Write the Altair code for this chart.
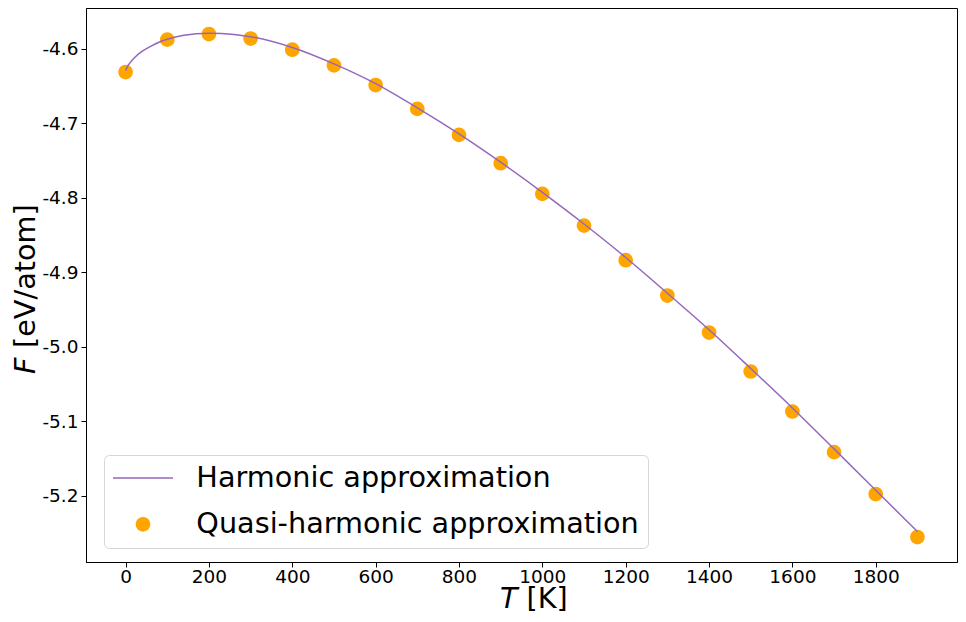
import altair as alt
import pandas as pd

# Quasi-harmonic points
T_points = [0, 100, 200, 300, 400, 500, 600, 700, 800, 900, 1000,
            1100, 1200, 1300, 1400, 1500, 1600, 1700, 1800, 1900]
F_points = [-4.631, -4.5875, -4.580, -4.586, -4.601, -4.622, -4.6485, -4.6805,
            -4.7154, -4.7534, -4.7946, -4.8372, -4.8837, -4.9311, -4.9808,
            -5.0331, -5.0868, -5.1414, -5.1977, -5.2554]

# Harmonic curve
T_line = [0, 5, 10, 20, 40, 60, 80, 100, 140, 200, 260, 300, 400, 500, 600,
          700, 800, 900, 1000, 1100, 1200, 1300, 1400, 1500, 1600, 1700, 1800, 1900]
F_line = [-4.629, -4.623, -4.619, -4.6125, -4.603, -4.5965, -4.591, -4.587,
          -4.5817, -4.5790, -4.5805, -4.5835, -4.598, -4.620, -4.6465, -4.679,
          -4.714, -4.752, -4.7925, -4.835, -4.880, -4.928, -4.977, -5.029,
          -5.082, -5.137, -5.1925, -5.248]

series_names = ["Harmonic approximation", "Quasi-harmonic approximation"]
series_colors = ["#9467bd", "#ffa500"]

x_ticks = [0, 200, 400, 600, 800, 1000, 1200, 1400, 1600, 1800]
y_ticks = [-5.2, -5.1, -5.0, -4.9, -4.8, -4.7, -4.6]

x_title_parts = ["T", "[K]"]
y_title_parts = ["F", "[eV/atom]"]

FONT = "DejaVu Sans"
TICK_FS = 18.5
TITLE_FS = 28.7

df_pts = pd.DataFrame({"T": T_points, "F": F_points, "series": series_names[1]})
df_line = pd.DataFrame({"T": T_line, "F": F_line, "series": series_names[0]})

x_enc = alt.X("T:Q", scale=alt.Scale(domain=[-95, 1995], nice=False, zero=False),
              axis=alt.Axis(values=x_ticks, title=None, grid=False, format="d",
                            labelFontSize=TICK_FS, labelFont=FONT, labelColor="black",
                            tickColor="black", tickSize=5, domainColor="black",
                            labelPadding=0, labelFlush=False))
y_enc = alt.Y("F:Q", scale=alt.Scale(domain=[-5.2889, -4.545], nice=False, zero=False),
              axis=alt.Axis(values=y_ticks, title=None, grid=False,
                            labelExpr="replace(format(datum.value, '.1f'), '\u2212', '-')",
                            labelFontSize=TICK_FS, labelFont=FONT, labelColor="black",
                            tickColor="black", tickSize=5, domainColor="black",
                            labelPadding=3, labelFlush=False))

leg = alt.Legend(
    title=None, orient="none", legendX=18, legendY=447,
    labelFontSize=TITLE_FS, labelFont=FONT, labelColor="black", labelLimit=2000,
    symbolStrokeWidth=1.5, symbolOpacity=1, symbolOffset=16,
    padding=8.65, cornerRadius=5, strokeColor="#d6d6d6", fillColor="white",
    labelOffset=39, rowPadding=16.3,
)

fill_enc = alt.Fill("series:N", scale=alt.Scale(domain=series_names,
                    range=["transparent", series_colors[1]]), legend=leg)
stroke_enc = alt.Stroke("series:N", scale=alt.Scale(domain=series_names,
                        range=series_colors), legend=leg)
shape_enc = alt.Shape("series:N", scale=alt.Scale(domain=series_names,
                      range=["M-4,0H4", "circle"]), legend=leg)
size_enc = alt.Size("series:N", scale=alt.Scale(domain=series_names,
                    range=[225, 175]), legend=leg)

points = alt.Chart(df_pts).mark_point(filled=True, opacity=1, strokeWidth=1.5).encode(
    x=x_enc, y=y_enc, fill=fill_enc, stroke=stroke_enc, shape=shape_enc, size=size_enc)
line = alt.Chart(df_line).mark_line(strokeWidth=1.5, interpolate="monotone").encode(
    x="T:Q", y="F:Q", stroke=alt.Stroke("series:N", legend=leg))

xt1 = alt.Chart(pd.DataFrame({"s": [x_title_parts[0]]})).mark_text(
    font=FONT, fontSize=TITLE_FS, fontStyle="italic", align="left", baseline="alphabetic",
    color="black").encode(text="s:N", x=alt.value(414), y=alt.value(600))
xt2 = alt.Chart(pd.DataFrame({"s": [x_title_parts[1]]})).mark_text(
    font=FONT, fontSize=TITLE_FS, align="left", baseline="alphabetic",
    color="black").encode(text="s:N", x=alt.value(440.6), y=alt.value(600))
yt1 = alt.Chart(pd.DataFrame({"s": [y_title_parts[0]]})).mark_text(
    font=FONT, fontSize=TITLE_FS, fontStyle="italic", align="left", baseline="alphabetic",
    angle=270, color="black").encode(text="s:N", x=alt.value(-51), y=alt.value(366))
yt2 = alt.Chart(pd.DataFrame({"s": [y_title_parts[1]]})).mark_text(
    font=FONT, fontSize=TITLE_FS, align="left", baseline="alphabetic",
    angle=270, color="black").encode(text="s:N", x=alt.value(-51), y=alt.value(340))

chart = alt.layer(points, line, xt1, xt2, yt1, yt2).properties(
    width=871, height=554,
    autosize=alt.AutoSizeParams(type="none"),
    padding={"left": 78, "top": 0, "right": 1, "bottom": 52},
).configure_view(stroke="black", strokeWidth=1).configure_axis(domainWidth=1, tickWidth=1)

chart.save("out.html", embed_options={"renderer": "svg", "actions": False})
